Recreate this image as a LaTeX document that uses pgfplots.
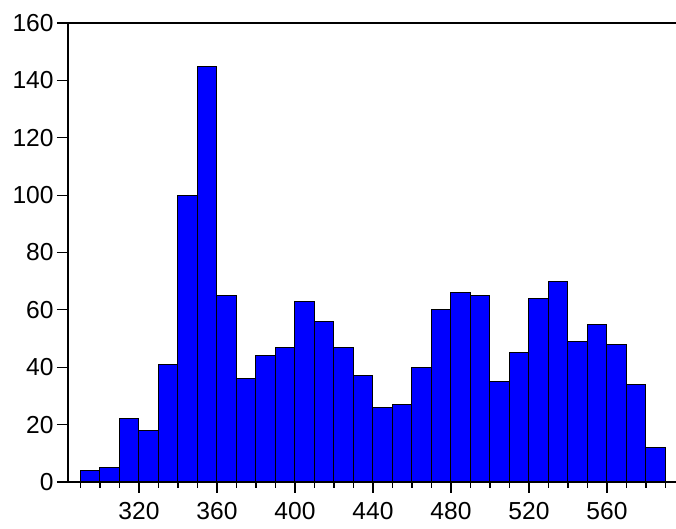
\documentclass[border=0pt]{standalone}
\usepackage{fontspec}
\setmainfont{Liberation Sans}
\usepackage{pgfplots}
\pgfplotsset{compat=1.18}
\begin{document}
\begin{tikzpicture}
\useasboundingbox (-34pt,-23.5pt) rectangle (304pt,241pt);
\begin{axis}[
  at={(0,0)}, anchor=south west,
  scale only axis, width=304pt, height=229.5pt,
  xmin=283.6, xmax=595.4, ymin=0, ymax=160,
  axis lines=left, axis line style={-, line width=0.9pt},
  tick align=outside,
  xtick={320,360,...,560},
  minor xtick={290,300,...,590},
  ytick={0,20,...,160},
  major tick length=5.5pt, minor tick length=3pt,
  every tick/.style={black, line width=0.6pt},
  tick label style={font=\fontsize{12.3}{14}\selectfont},
  yticklabel style={inner sep=1.5pt},
  xticklabel style={inner sep=2pt, yshift=-2.5pt},
  /pgf/number format/assume math mode=true,
  /pgf/number format/1000 sep={},
  clip=false,
]
\addplot[ybar interval, fill={rgb,255:red,0;green,0;blue,255}, draw=black, line width=0.5pt] coordinates {
(290,4) (300,5) (310,22) (320,18) (330,41) (340,100) (350,145) (360,65) (370,36) (380,44)
(390,47) (400,63) (410,56) (420,47) (430,37) (440,26) (450,27) (460,40) (470,60) (480,66)
(490,65) (500,35) (510,45) (520,64) (530,70) (540,49) (550,55) (560,48) (570,34) (580,12) (590,12)
};
\draw[line width=1.1pt] (rel axis cs:0,1) -- (rel axis cs:1,1);
\end{axis}
\end{tikzpicture}
\end{document}
